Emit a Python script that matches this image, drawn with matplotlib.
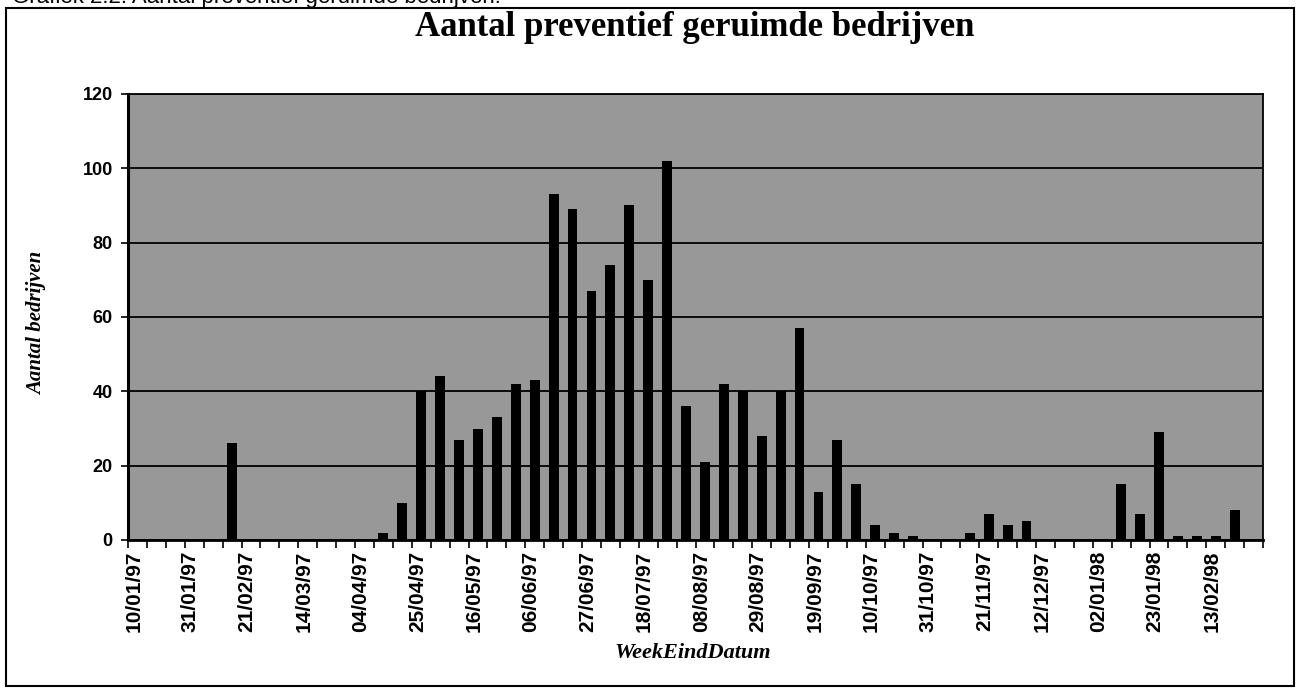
import matplotlib.pyplot as plt
from matplotlib.patches import Rectangle
import numpy as np
import pandas as pd

# week-end dates (one bar per week) and number of farms cleared per week
weeks = pd.date_range('1997-01-10', periods=60, freq='7D')
n_bedrijven = [0, 0, 0, 0, 0, 26, 0, 0, 0, 0,
               0, 0, 0, 2, 10, 40, 44, 27, 30, 33,
               42, 43, 93, 89, 67, 74, 90, 70, 102, 36,
               21, 42, 40, 28, 40, 57, 13, 27, 15, 4,
               2, 1, 0, 0, 2, 7, 4, 5, 0, 0,
               0, 0, 15, 7, 29, 1, 1, 1, 8, 0]
tick_labels = ['10/01/97', '31/01/97', '21/02/97', '14/03/97', '04/04/97',
               '25/04/97', '16/05/97', '06/06/97', '27/06/97', '18/07/97',
               '08/08/97', '29/08/97', '19/09/97', '10/10/97', '31/10/97',
               '21/11/97', '12/12/97', '02/01/98', '23/01/98', '13/02/98']
y_ticks = [0, 20, 40, 60, 80, 100, 120]

W, H = 1297, 688
fig = plt.figure(figsize=(W / 100, H / 100), dpi=100)
fig.patch.set_facecolor('white')

# plot area
left, right, top, bottom = 128, 1263, 94, 540
ax = fig.add_axes([left / W, 1 - bottom / H, (right - left) / W, (bottom - top) / H])
ax.set_facecolor('#989898')

x = np.arange(len(weeks))
ax.bar(x, n_bedrijven, width=0.52, color='black', zorder=3)

ax.set_xlim(-0.5, len(weeks) - 0.5)
ax.set_ylim(0, 120)
ax.set_yticks(y_ticks)
ax.set_yticklabels([str(v) for v in y_ticks], family='Liberation Sans',
                   weight='bold', fontsize=13)
ax.yaxis.grid(True, color='black', linewidth=1.3, zorder=1)
ax.set_axisbelow(True)

# ticks at every category boundary, labels every third week
ax.set_xticks(np.arange(len(weeks) + 1) - 0.5)
ax.set_xticklabels([])
ax.set_xticks(x[::3] - 0.2, minor=True)
ax.set_xticklabels(tick_labels, minor=True, rotation=90, family='Liberation Sans',
                   weight='bold', fontsize=15)
ax.tick_params(axis='x', which='major', length=6, width=1.2, direction='out')
ax.tick_params(axis='x', which='minor', length=0, pad=8)
ax.tick_params(axis='y', length=5, width=1.2, direction='out', pad=6)

for s in ax.spines.values():
    s.set_color('black')
    s.set_linewidth(1.3)
ax.spines['left'].set_linewidth(2.2)
ax.spines['bottom'].set_linewidth(2.0)

# texts
fig.text(695 / W, 1 - 28 / H, 'Aantal preventief geruimde bedrijven',
         ha='center', va='center', family='Liberation Serif', weight='bold',
         fontsize=25)
fig.text(37 / W, 1 - 323 / H, 'Aantal bedrijven', rotation=90,
         ha='center', va='center', family='Liberation Serif', weight='bold',
         style='italic', fontsize=15)
fig.text(693 / W, 1 - 653 / H, 'WeekEindDatum', ha='center', va='center',
         family='Liberation Serif', weight='bold', style='italic', fontsize=16)

# caption line cut off at the top of the scan
fig.text(12 / W, 1 - 3 / H, 'Grafiek 2.2: Aantal preventief geruimde bedrijven.',
         ha='left', va='baseline', family='Liberation Sans', fontsize=16)

# frame around the chart
fig.patches.append(Rectangle((6 / W, 2 / H), (1294 - 6) / W, 1 - 10 / H,
                             transform=fig.transFigure, fill=False,
                             edgecolor='black', linewidth=1.5))

fig.savefig('out.png', dpi=100)
